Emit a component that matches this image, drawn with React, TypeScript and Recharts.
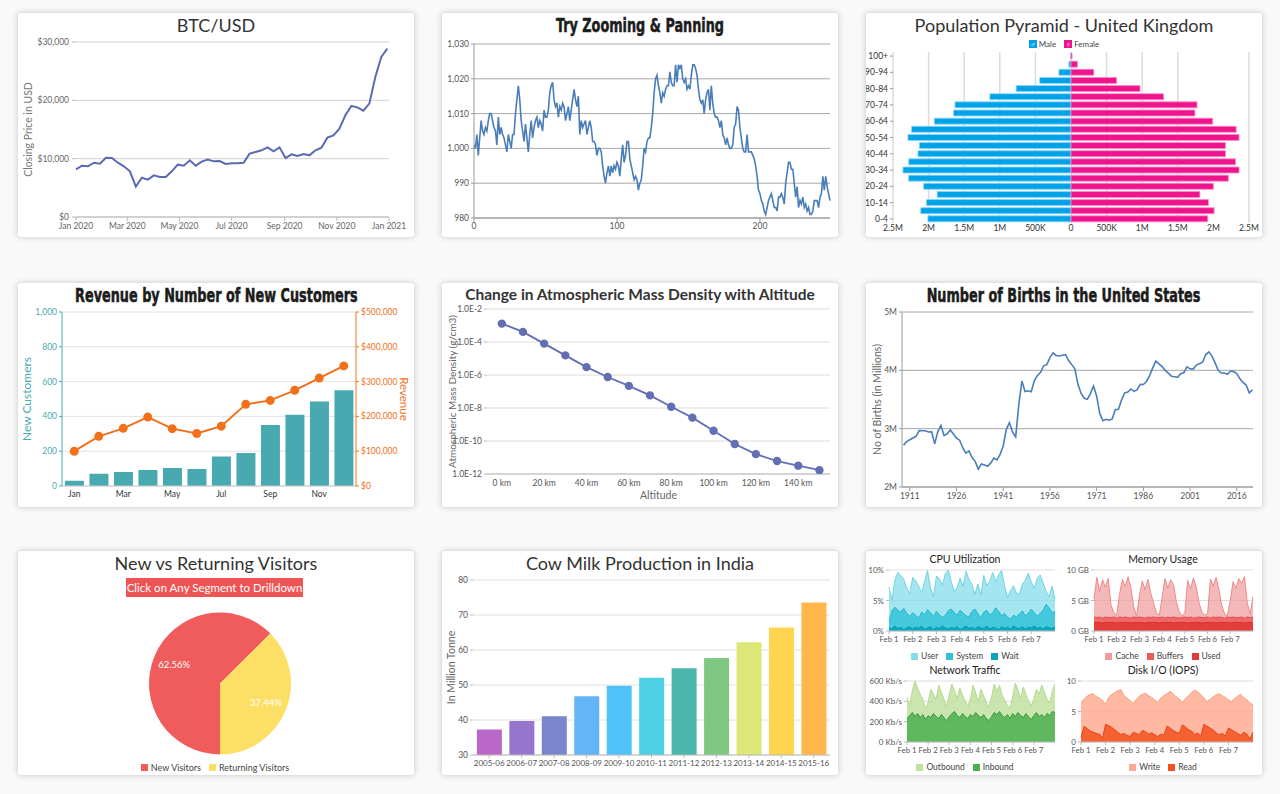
import React from "react";
import {
  LineChart,
  Line,
  XAxis,
  YAxis,
  CartesianGrid,
  BarChart,
  Bar,
  Cell,
  ComposedChart,
  PieChart,
  Pie,
  AreaChart,
  Area,
} from "recharts";

const FONT = "Lato, 'Open Sans', sans-serif";
const IMPACT = "'DejaVu Sans Condensed', 'DejaVu Sans', sans-serif";

// ---------- BTC/USD ----------
const btcDates = [
  "2020-01-01", "2020-01-08", "2020-01-15", "2020-01-22", "2020-01-29",
  "2020-02-05", "2020-02-12", "2020-02-19", "2020-02-26",
  "2020-03-04", "2020-03-11", "2020-03-18", "2020-03-25",
  "2020-04-01", "2020-04-08", "2020-04-15", "2020-04-22", "2020-04-29",
  "2020-05-06", "2020-05-13", "2020-05-20", "2020-05-27",
  "2020-06-03", "2020-06-10", "2020-06-17", "2020-06-24",
  "2020-07-01", "2020-07-08", "2020-07-15", "2020-07-22", "2020-07-29",
  "2020-08-05", "2020-08-12", "2020-08-19", "2020-08-26",
  "2020-09-02", "2020-09-09", "2020-09-16", "2020-09-23", "2020-09-30",
  "2020-10-07", "2020-10-14", "2020-10-21", "2020-10-28",
  "2020-11-04", "2020-11-11", "2020-11-18", "2020-11-25",
  "2020-12-02", "2020-12-09", "2020-12-16", "2020-12-23", "2020-12-30",
];
const btcClose = [
  8170, 8800, 8690, 9310, 9140, 10170, 10110, 9310, 8690, 7830, 5200, 6740, 6400,
  7140, 6860, 6860, 7830, 8970, 8800, 9710, 8800, 9490, 9830, 9540, 9600, 9090,
  9200, 9200, 9310, 10860, 11140, 11430, 11940, 11260, 11940, 10110, 10740, 10460,
  10800, 10570, 11430, 11890, 13600, 14000, 15140, 17430, 19030, 18800, 18230,
  19430, 24000, 27430, 28860,
];
const btcTickDates = ["2020-01-01", "2020-03-01", "2020-05-01", "2020-07-01", "2020-09-01", "2020-11-01", "2021-01-01"];
const btcYTicks = [0, 10000, 20000, 30000];

// ---------- Try Zooming & Panning ----------
const zoomValues = [
  1001, 1000, 1004, 998, 1003, 1008, 1005, 1004, 1006, 1005,
  1008, 1010, 1010, 1008, 1006, 1005, 1001, 1009, 1004, 1006,
  1004, 1003, 1001, 999, 1004, 1002, 1000, 1004, 1004, 1010,
  1014, 1018, 1014, 1008, 1005, 1002, 1007, 1003, 999, 1004,
  1008, 1003, 1006, 1008, 1009, 1006, 1008, 1007, 1005, 1011,
  1009, 1009, 1011, 1016, 1018, 1019, 1014, 1012, 1013, 1009,
  1012, 1011, 1013, 1012, 1008, 1010, 1012, 1008, 1011, 1014,
  1017, 1014, 1012, 1015, 1004, 1008, 1006, 1007, 1008, 1004,
  1006, 1008, 1006, 1002, 1002, 1001, 998, 1000, 1000, 999,
  995, 992, 990, 993, 995, 992, 995, 993, 995, 994,
  996, 995, 992, 997, 1001, 996, 998, 1002, 1002, 997,
  995, 993, 991, 992, 991, 988, 990, 991, 995, 1000,
  999, 1002, 1003, 1003, 1006, 1010, 1016, 1020, 1021, 1018,
  1016, 1013, 1016, 1015, 1017, 1018, 1018, 1022, 1019, 1018,
  1018, 1024, 1019, 1024, 1023, 1024, 1020, 1019, 1020, 1017,
  1018, 1017, 1021, 1024, 1024, 1023, 1021, 1017, 1014, 1013,
  1014, 1010, 1014, 1016, 1017, 1011, 1018, 1013, 1010, 1009,
  1009, 1008, 1006, 1008, 1004, 1003, 1001, 1003, 1001, 1000,
  1000, 1001, 1006, 1007, 1012, 1011, 1006, 1003, 1000, 999,
  999, 1004, 999, 999, 999, 998, 997, 995, 992, 988,
  987, 985, 984, 982, 981, 983, 985, 986, 987, 985,
  983, 983, 982, 986, 986, 987, 986, 984, 990, 993,
  996, 996, 994, 994, 990, 986, 989, 983, 985, 984,
  986, 983, 984, 982, 983, 981, 981, 982, 985, 985,
  985, 983, 986, 987, 992, 988, 992, 989, 987, 985,
];
const zoomXTicks = [0, 100, 200];
const zoomYTicks = [980, 990, 1000, 1010, 1020, 1030];

// ---------- Population Pyramid ----------
const ageGroups = [
  "0-4", "5-9", "10-14", "15-19", "20-24", "25-29", "30-34", "35-39", "40-44", "45-49",
  "50-54", "55-59", "60-64", "65-69", "70-74", "75-79", "80-84", "85-89", "90-94", "95-99", "100+",
];
const malePop = [2010, 2110, 2030, 1880, 2070, 2280, 2360, 2280, 2150, 2130, 2290, 2240, 1920, 1650, 1630, 1140, 770, 440, 170, 30, 5];
const femalePop = [1920, 2010, 1930, 1810, 2000, 2210, 2360, 2310, 2170, 2170, 2360, 2320, 1990, 1740, 1770, 1300, 970, 640, 320, 90, 15];
const popTicks = [-2500, -2000, -1500, -1000, -500, 0, 500, 1000, 1500, 2000, 2500];

// ---------- Revenue by New Customers ----------
const revMonths = ["Jan", "Feb", "Mar", "Apr", "May", "Jun", "Jul", "Aug", "Sep", "Oct", "Nov", "Dec"];
const newCustomers = [30, 70, 80, 92, 103, 97, 170, 190, 350, 410, 485, 550];
const revenue = [100000, 142700, 165700, 198000, 164800, 151000, 172000, 234700, 246000, 275000, 310000, 345000];
const custTicks = [0, 200, 400, 600, 800, 1000];
const revTicks = [0, 100000, 200000, 300000, 400000, 500000];

// ---------- Atmospheric density ----------
const altitudes = [0, 10, 20, 30, 40, 50, 60, 70, 80, 90, 100, 110, 120, 130, 140, 150];
const density = [1.3e-3, 4.1e-4, 8.0e-5, 1.55e-5, 3.0e-6, 7.6e-7, 2.2e-7, 5.8e-8, 1.2e-8, 2.6e-9, 4.2e-10, 6.6e-11, 1.6e-11, 6.1e-12, 3.2e-12, 1.7e-12];
const altTicks = [0, 20, 40, 60, 80, 100, 120, 140];
const densityTicks = [1e-12, 1e-10, 1e-8, 1e-6, 1e-4, 1e-2];

// ---------- Births in the US (thousands) ----------
const birthYears = [
  1909, 1910, 1911, 1912, 1913, 1914, 1915, 1916, 1917, 1918,
  1919, 1920, 1921, 1922, 1923, 1924, 1925, 1926, 1927, 1928,
  1929, 1930, 1931, 1932, 1933, 1934, 1935, 1936, 1937, 1938,
  1939, 1940, 1941, 1942, 1943, 1944, 1945, 1946, 1947, 1948,
  1949, 1950, 1951, 1952, 1953, 1954, 1955, 1956, 1957, 1958,
  1959, 1960, 1961, 1962, 1963, 1964, 1965, 1966, 1967, 1968,
  1969, 1970, 1971, 1972, 1973, 1974, 1975, 1976, 1977, 1978,
  1979, 1980, 1981, 1982, 1983, 1984, 1985, 1986, 1987, 1988,
  1989, 1990, 1991, 1992, 1993, 1994, 1995, 1996, 1997, 1998,
  1999, 2000, 2001, 2002, 2003, 2004, 2005, 2006, 2007, 2008,
  2009, 2010, 2011, 2012, 2013, 2014, 2015, 2016, 2017, 2018,
  2019, 2020, 2021,
];
const birthCounts = [
  2718, 2777, 2809, 2840, 2869, 2966, 2965, 2964, 2944, 2948,
  2740, 2950, 3055, 2882, 2910, 2979, 2909, 2839, 2802, 2674,
  2582, 2618, 2506, 2440, 2307, 2396, 2377, 2355, 2413, 2496,
  2466, 2559, 2703, 2989, 3104, 2939, 2858, 3411, 3817, 3637,
  3649, 3632, 3823, 3913, 3965, 4078, 4097, 4218, 4300, 4255,
  4245, 4258, 4268, 4167, 4098, 4027, 3760, 3606, 3521, 3502,
  3600, 3731, 3556, 3258, 3137, 3160, 3144, 3168, 3327, 3333,
  3494, 3612, 3629, 3681, 3639, 3669, 3761, 3757, 3809, 3910,
  4041, 4158, 4111, 4065, 4000, 3953, 3900, 3891, 3881, 3942,
  3959, 4059, 4026, 4022, 4090, 4112, 4138, 4266, 4316, 4248,
  4131, 4000, 3954, 3953, 3932, 3988, 3978, 3946, 3855, 3792,
  3748, 3614, 3664,
];
const birthXTicks = [1911, 1926, 1941, 1956, 1971, 1986, 2001, 2016];
const birthYTicks = [2000, 3000, 4000, 5000];

// ---------- New vs Returning ----------
const visitorNames = ["New Visitors", "Returning Visitors"];
const visitorShare = [62.56, 37.44];
const visitorColors = ["#f05c5c", "#fddf66"];

// ---------- Cow milk ----------
const milkYears = ["2005-06", "2006-07", "2007-08", "2008-09", "2009-10", "2010-11", "2011-12", "2012-13", "2013-14", "2014-15", "2015-16"];
const milkTonnes = [37.3, 39.7, 41.1, 46.8, 49.8, 52.1, 54.8, 57.7, 62.2, 66.4, 73.6];
const milkColors = ["#ba68c8", "#9575cd", "#7986cb", "#64b5f6", "#4fc3f7", "#4dd0e1", "#4db6ac", "#81c784", "#dce775", "#ffd54f", "#ffb74d"];
const milkTicks = [30, 40, 50, 60, 70, 80];

// ---------- Server dashboard (8 samples per day) ----------
const dayTicks = [0, 8, 16, 24, 32, 40, 48];
const dayLabels = ["Feb 1", "Feb 2", "Feb 3", "Feb 4", "Feb 5", "Feb 6", "Feb 7"];
const cpuUser = [
  7.2, 5.0, 8.4, 9.6, 9.1, 8.5, 7.0, 6.1,
  8.8, 8.2, 7.4, 6.3, 8.1, 9.9, 7.1, 5.6,
  9.0, 8.6, 7.5, 9.4, 10.0, 8.1, 6.5, 7.1,
  8.7, 7.3, 9.8, 8.4, 7.6, 6.0, 7.7, 5.9,
  9.1, 7.4, 8.2, 9.6, 8.0, 9.2, 9.9, 7.4,
  5.5, 6.6, 7.4, 6.2, 6.0, 7.7, 8.3, 9.5,
  8.0, 7.0, 8.6, 9.2, 7.9, 6.5, 5.6, 7.3, 5.2,
];
const cpuSystem = [
  1.6, 3.3, 3.9, 3.4, 3.1, 3.7, 2.9, 2.4,
  3.0, 2.6, 2.1, 3.1, 2.7, 3.5, 3.0, 2.4,
  3.2, 2.7, 2.2, 2.6, 3.3, 3.6, 3.0, 2.6,
  3.4, 2.9, 2.5, 2.3, 3.2, 3.6, 2.8, 2.2,
  3.1, 3.4, 2.6, 3.0, 3.8, 3.2, 2.5, 2.9,
  2.2, 2.0, 2.6, 2.3, 2.8, 3.3, 2.5, 2.9,
  3.6, 3.0, 2.4, 2.9, 3.4, 4.4, 3.8, 3.0, 3.2,
];
const cpuWait = [
  0.5, 0.3, 0.8, 0.4, 0.6, 0.2, 0.5, 0.7,
  0.3, 0.6, 0.4, 0.8, 0.3, 0.5, 0.7, 0.2,
  0.6, 0.4, 0.8, 0.5, 0.3, 0.6, 0.4, 0.7,
  0.2, 0.5, 0.8, 0.4, 0.6, 0.3, 0.7, 0.5,
  0.4, 0.8, 0.3, 0.6, 0.5, 0.2, 0.7, 0.4,
  0.6, 0.3, 0.8, 0.5, 0.4, 0.7, 0.3, 0.6,
  0.5, 0.8, 0.4, 0.6, 0.3, 0.7, 0.5, 0.4, 0.6,
];
const memCache = [
  5.2, 8.8, 6.5, 8.4, 7.2, 8.6, 4.2, 3.0,
  2.6, 6.0, 8.5, 7.3, 8.9, 7.0, 4.0, 2.4,
  5.8, 8.2, 6.8, 8.5, 6.2, 4.5, 3.0, 2.6,
  5.5, 8.6, 7.0, 8.4, 7.6, 4.8, 3.2, 2.4,
  3.0, 8.3, 6.9, 8.7, 7.2, 4.6, 3.1, 2.6,
  2.8, 8.5, 7.4, 8.8, 6.8, 4.2, 2.8, 2.5,
  5.0, 8.1, 7.0, 8.6, 7.8, 8.9, 4.5, 2.8, 5.6,
];
const memBuffers = [
  2.3, 2.2, 2.3, 2.1, 2.3, 2.2, 2.2, 2.3,
  2.1, 2.3, 2.2, 2.3, 2.2, 2.1, 2.3, 2.2,
  2.3, 2.2, 2.1, 2.3, 2.2, 2.3, 2.2, 2.2,
  2.3, 2.1, 2.3, 2.2, 2.3, 2.2, 2.1, 2.2,
  2.3, 2.2, 2.3, 2.1, 2.2, 2.3, 2.2, 2.2,
  2.3, 2.1, 2.3, 2.2, 2.3, 2.2, 2.1, 2.3,
  2.2, 2.3, 2.2, 2.2, 2.3, 2.1, 2.3, 2.2, 2.3,
];
const memUsed = [
  1.4, 1.4, 1.4, 1.3, 1.4, 1.4, 1.4, 1.4,
  1.3, 1.4, 1.4, 1.4, 1.4, 1.3, 1.4, 1.4,
  1.4, 1.4, 1.3, 1.4, 1.4, 1.4, 1.4, 1.3,
  1.4, 1.4, 1.4, 1.4, 1.3, 1.4, 1.4, 1.4,
  1.4, 1.3, 1.4, 1.4, 1.4, 1.4, 1.3, 1.4,
  1.4, 1.4, 1.4, 1.3, 1.4, 1.4, 1.4, 1.4,
  1.3, 1.4, 1.4, 1.4, 1.4, 1.3, 1.4, 1.4, 1.4,
];
const netOut = [
  440, 360, 500, 600, 530, 470, 420, 330,
  390, 520, 470, 420, 560, 490, 420, 350,
  470, 570, 500, 430, 530, 460, 400, 350,
  420, 560, 480, 400, 520, 450, 390, 340,
  440, 570, 500, 560, 460, 410, 360, 330,
  450, 580, 510, 430, 540, 470, 400, 360,
  420, 520, 470, 560, 490, 420, 380, 500, 570,
];
const netIn = [
  230, 260, 290, 250, 280, 240, 270, 220,
  260, 240, 280, 250, 230, 270, 240, 210,
  250, 280, 300, 260, 240, 280, 250, 230,
  270, 250, 290, 260, 240, 270, 230, 210,
  250, 290, 270, 300, 260, 240, 270, 230,
  280, 250, 290, 260, 240, 280, 250, 220,
  260, 290, 250, 270, 240, 280, 260, 300, 290,
];
const diskWrite = [
  6.5, 7.0, 7.5, 7.8, 7.9, 7.4, 7.2, 6.8,
  6.2, 7.3, 7.8, 8.1, 8.4, 8.6, 7.6, 7.2,
  6.8, 6.3, 7.0, 7.5, 7.8, 8.0, 7.6, 7.3,
  6.9, 6.5, 7.2, 7.6, 7.9, 8.3, 7.9, 7.4,
  7.0, 6.5, 7.1, 7.6, 8.1, 8.5, 8.2, 7.8,
  7.2, 6.6, 7.0, 7.4, 7.7, 7.9, 7.6, 7.3,
  6.9, 6.6, 7.1, 7.5, 7.8, 7.3, 6.9, 6.4, 6.1,
];
const diskRead = [
  0.8, 2.6, 2.2, 1.8, 1.6, 1.4, 1.3, 0.6,
  2.9, 2.7, 2.4, 2.0, 1.6, 1.2, 1.4, 1.1,
  0.9, 1.6, 1.4, 1.2, 1.9, 1.7, 1.3, 1.5,
  1.2, 0.9, 1.3, 1.1, 2.6, 2.3, 1.9, 1.6,
  1.4, 2.8, 2.5, 2.0, 1.8, 1.2, 1.5, 0.9,
  2.9, 2.6, 2.3, 2.0, 1.5, 1.2, 1.4, 1.0,
  2.3, 2.0, 1.7, 1.4, 1.1, 1.6, 1.3, 0.5, 1.6,
];

// ---------- helpers ----------
const tick = (fill = "#666", fontSize = 8.5) => ({ fill, fontSize, fontFamily: FONT });

function Card({ left, top, children }: { left: number; top: number; children: React.ReactNode }) {
  return (
    <div
      style={{
        position: "absolute",
        left,
        top,
        width: 396,
        height: 224,
        background: "#fff",
        borderRadius: 3,
        boxShadow: "0 0 6px rgba(0,0,0,0.22)",
        overflow: "hidden",
      }}
    >
      {children}
    </div>
  );
}

function Title({ text, impact = false, size = 18, top = 1, weight = 400 }: { text: string; impact?: boolean; size?: number; top?: number; weight?: number }) {
  return (
    <div
      style={{
        position: "absolute",
        left: 0,
        right: 0,
        top,
        textAlign: "center",
        fontSize: size,
        lineHeight: `${size + 4}px`,
        fontFamily: impact ? IMPACT : FONT,
        fontWeight: impact ? 700 : weight,
        color: impact ? "#1c1c1c" : "#333",
        zIndex: 2,
        whiteSpace: "nowrap",
      }}
    >
      {impact ? (
        <span style={{ display: "inline-block", transform: "scaleX(0.75)", WebkitTextStroke: "0.5px #1c1c1c" }}>{text}</span>
      ) : (
        text
      )}
    </div>
  );
}

function LegendRow({ items, top, center, size = 8.5, gap = 10 }: { items: { label: string; color: string }[]; top: number; center: number; size?: number; gap?: number }) {
  return (
    <div
      style={{
        position: "absolute",
        top,
        left: center - 120,
        width: 240,
        display: "flex",
        justifyContent: "center",
        gap,
        fontSize: size,
        color: "#444",
        lineHeight: "11px",
        zIndex: 2,
      }}
    >
      {items.map((it) => (
        <span key={it.label} style={{ display: "flex", alignItems: "center", gap: 3 }}>
          <span style={{ width: 7, height: 7, background: it.color, display: "inline-block" }} />
          {it.label}
        </span>
      ))}
    </div>
  );
}

const fmtMonth = (v: number) =>
  new Date(v).toLocaleString("en-US", { month: "short", year: "numeric", timeZone: "UTC" });
const fmtPop = (v: number) => {
  const a = Math.abs(v);
  if (a === 0) return "0";
  if (a < 1000) return `${a}K`;
  return `${a / 1000}M`;
};

// ---------- cards ----------
function BtcCard() {
  const data = btcDates.map((d, i) => ({ t: Date.parse(d), close: btcClose[i] }));
  const ticks = btcTickDates.map((d) => Date.parse(d));
  return (
    <Card left={18} top={13}>
      <Title text="BTC/USD" />
      <LineChart width={396} height={224} data={data} margin={{ top: 29, right: 25, bottom: 0, left: 0 }}>
        <CartesianGrid vertical={false} stroke="#d0d0d0" />
        <XAxis
          dataKey="t"
          type="number"
          domain={[ticks[0], ticks[ticks.length - 1]]}
          ticks={ticks}
          tickFormatter={fmtMonth}
          height={20}
          stroke="#bbb"
          tickSize={4}
          tickMargin={2}
          tick={tick()}
        />
        <YAxis
          domain={[0, 30000]}
          ticks={btcYTicks}
          tickFormatter={(v: number) => `$${v.toLocaleString("en-US")}`}
          width={58}
          axisLine={false}
          stroke="#bbb"
          tickSize={4}
          tickMargin={3}
          tick={tick()}
          label={{ value: "Closing Price in USD", angle: -90, position: "insideLeft", offset: 10, style: { textAnchor: "middle", fill: "#777", fontSize: 10.5 } }}
        />
        <Line dataKey="close" stroke="#5b6bb3" strokeWidth={2} dot={false} isAnimationActive={false} />
      </LineChart>
    </Card>
  );
}

function ZoomCard() {
  const data = zoomValues.map((v, i) => ({ x: i, y: v }));
  return (
    <Card left={442} top={13}>
      <Title text="Try Zooming & Panning" impact size={19} />
      <LineChart width={396} height={224} data={data} margin={{ top: 31, right: 8, bottom: 0, left: 0 }}>
        <CartesianGrid vertical={false} stroke="#a8a8a8" />
        <XAxis dataKey="x" type="number" domain={[0, 249]} ticks={zoomXTicks} height={19} stroke="#999" tickSize={4} tickMargin={1} tick={tick("#555")} />
        <YAxis
          domain={[980, 1030]}
          ticks={zoomYTicks}
          tickFormatter={(v: number) => v.toLocaleString("en-US")}
          width={32}
          stroke="#999"
          tickSize={3}
          tickMargin={2}
          tick={tick("#555")}
        />
        <Line dataKey="y" stroke="#4a7ebb" strokeWidth={1.6} dot={false} isAnimationActive={false} />
      </LineChart>
    </Card>
  );
}

function PyramidCard() {
  const data = ageGroups.map((a, i) => ({ age: a, male: -malePop[i], female: femalePop[i] }));
  return (
    <Card left={866} top={13}>
      <Title text="Population Pyramid - United Kingdom" />
      <div style={{ position: "absolute", top: 26, left: 0, width: 396, display: "flex", justifyContent: "center", gap: 8, fontSize: 8, color: "#444", lineHeight: "10px", zIndex: 2 }}>
        <span style={{ display: "flex", alignItems: "center", gap: 2 }}>
          <span style={{ width: 8, height: 8, background: "#00a3e8", color: "#fff", fontSize: 7, lineHeight: "8px", textAlign: "center" }}>♂</span>
          Male
        </span>
        <span style={{ display: "flex", alignItems: "center", gap: 2 }}>
          <span style={{ width: 8, height: 8, background: "#f0148c", color: "#fff", fontSize: 7, lineHeight: "8px", textAlign: "center" }}>♀</span>
          Female
        </span>
      </div>
      <BarChart width={396} height={224} data={data} layout="vertical" stackOffset="sign" barCategoryGap={1} margin={{ top: 39, right: 13, bottom: 0, left: 0 }}>
        <CartesianGrid horizontal={false} stroke="#dcdcdc" strokeWidth={1.5} />
        <XAxis type="number" domain={[-2500, 2500]} ticks={popTicks} tickFormatter={fmtPop} height={14} axisLine={false} tickLine={false} tickSize={0} tickMargin={2} tick={tick("#333")} />
        <YAxis type="category" dataKey="age" reversed interval={1} width={27} axisLine={false} stroke="#999" tickSize={3} tickMargin={2} tick={tick("#333")} />
        <Bar dataKey="male" stackId="p" fill="#00a3e8" stroke="#8fd6f7" strokeWidth={0.8} isAnimationActive={false} />
        <Bar dataKey="female" stackId="p" fill="#f0148c" stroke="#f88cc6" strokeWidth={0.8} isAnimationActive={false} />
      </BarChart>
    </Card>
  );
}

function RevenueCard() {
  const data = revMonths.map((m, i) => ({ month: m, customers: newCustomers[i], revenue: revenue[i] }));
  const teal = "#48aab0";
  const orange = "#f3701a";
  return (
    <Card left={18} top={283}>
      <Title text="Revenue by Number of New Customers" impact size={19} />
      <ComposedChart width={396} height={224} data={data} barCategoryGap="12%" margin={{ top: 29, right: 0, bottom: 0, left: 0 }}>
        <CartesianGrid vertical={false} stroke="#e3e3e3" yAxisId="left" />
        <XAxis dataKey="month" interval={1} height={21} stroke="#ccc" tickLine={false} tickSize={3} tickMargin={2} tick={tick("#333")} />
        <YAxis
          yAxisId="left"
          domain={[0, 1000]}
          ticks={custTicks}
          tickFormatter={(v: number) => v.toLocaleString("en-US")}
          width={44}
          stroke={teal}
          tickSize={3}
          tickMargin={2}
          tick={tick(teal)}
          label={{ value: "New Customers", angle: -90, position: "insideLeft", offset: 9, style: { textAnchor: "middle", fill: teal, fontSize: 12 } }}
        />
        <YAxis
          yAxisId="right"
          orientation="right"
          domain={[0, 500000]}
          ticks={revTicks}
          tickFormatter={(v: number) => `$${v.toLocaleString("en-US")}`}
          width={58}
          stroke={orange}
          tickSize={3}
          tickMargin={2}
          tick={tick(orange)}
          label={{ value: "Revenue", angle: 90, position: "insideRight", offset: 10, style: { textAnchor: "middle", fill: orange, fontSize: 11.5 } }}
        />
        <Bar yAxisId="left" dataKey="customers" fill={teal} isAnimationActive={false} />
        <Line yAxisId="right" dataKey="revenue" stroke={orange} strokeWidth={2} dot={{ r: 3.5, fill: orange, stroke: orange }} isAnimationActive={false} />
      </ComposedChart>
    </Card>
  );
}

function AtmosCard() {
  const data = altitudes.map((a, i) => ({ alt: a, d: density[i] }));
  return (
    <Card left={442} top={283}>
      <Title text="Change in Atmospheric Mass Density with Altitude" size={15.5} top={2} weight={700} />
      <LineChart width={396} height={224} data={data} margin={{ top: 26, right: 8, bottom: 0, left: 0 }}>
        <CartesianGrid vertical={false} stroke="#dcdcdc" />
        <XAxis
          dataKey="alt"
          type="number"
          domain={[-7, 155]}
          ticks={altTicks}
          tickFormatter={(v: number) => `${v} km`}
          height={33}
          stroke="#bbb"
          tickLine={false}
          tickSize={4}
          tickMargin={2}
          tick={tick("#555")}
          label={{ value: "Altitude", position: "insideBottom", offset: 8, style: { fill: "#666", fontSize: 10.5 } }}
        />
        <YAxis
          scale="log"
          domain={[1e-12, 1e-2]}
          allowDataOverflow
          ticks={densityTicks}
          tickFormatter={(v: number) => v.toExponential(1).toUpperCase()}
          width={45}
          axisLine={false}
          stroke="#bbb"
          tickSize={3}
          tickMargin={2}
          tick={tick("#555")}
          label={{ value: "Atmospheric Mass Density (g/cm3)", angle: -90, position: "insideLeft", offset: 10, style: { textAnchor: "middle", fill: "#666", fontSize: 10 } }}
        />
        <Line dataKey="d" stroke="#6270b3" strokeWidth={1.8} dot={{ r: 3.3, fill: "#6270b3", stroke: "#6270b3" }} isAnimationActive={false} />
      </LineChart>
    </Card>
  );
}

function BirthsCard() {
  const data = birthYears.map((y, i) => ({ year: y, births: birthCounts[i] }));
  return (
    <Card left={866} top={283}>
      <Title text="Number of Births in the United States" impact size={19} />
      <LineChart width={396} height={224} data={data} margin={{ top: 29, right: 9, bottom: 0, left: 0 }}>
        <CartesianGrid vertical={false} stroke="#a8a8a8" />
        <XAxis dataKey="year" type="number" domain={[1908.5, 2021.2]} ticks={birthXTicks} height={20} stroke="#999" tickSize={4} tickMargin={2} tick={tick("#555")} />
        <YAxis
          domain={[2000, 5000]}
          ticks={birthYTicks}
          tickFormatter={(v: number) => `${v / 1000}M`}
          width={36}
          stroke="#999"
          tickSize={3}
          tickMargin={2}
          tick={tick("#555")}
          label={{ value: "No of Births (in Millions)", angle: -90, position: "insideLeft", offset: 11, style: { textAnchor: "middle", fill: "#666", fontSize: 10.5 } }}
        />
        <Line dataKey="births" stroke="#4a7ebb" strokeWidth={1.6} dot={false} isAnimationActive={false} />
      </LineChart>
    </Card>
  );
}

function VisitorsCard() {
  const data = visitorNames.map((n, i) => ({ name: n, value: visitorShare[i] }));
  const renderLabel = (p: any) => {
    const rad = Math.PI / 180;
    const r = p.outerRadius * 0.7;
    const x = p.cx + r * Math.cos(-p.midAngle * rad);
    const y = p.cy + r * Math.sin(-p.midAngle * rad);
    return (
      <text x={x} y={y} fill="#fff" fontSize={9.5} textAnchor="middle" dominantBaseline="central" fontFamily={FONT}>
        {`${p.value.toFixed(2)}%`}
      </text>
    );
  };
  return (
    <Card left={18} top={551}>
      <Title text="New vs Returning Visitors" />
      <div
        style={{
          position: "absolute",
          left: 108,
          top: 27,
          width: 177,
          height: 19,
          background: "#ef5454",
          color: "#fff",
          fontSize: 11.5,
          lineHeight: "19px",
          textAlign: "center",
          zIndex: 2,
        }}
      >
        Click on Any Segment to Drilldown
      </div>
      <PieChart width={396} height={224}>
        <Pie
          data={data}
          dataKey="value"
          cx={197}
          cy={127.5}
          outerRadius={71}
          startAngle={-90}
          endAngle={-450}
          stroke="none"
          label={renderLabel}
          labelLine={false}
          isAnimationActive={false}
        >
          {data.map((d, i) => (
            <Cell key={d.name} fill={visitorColors[i]} />
          ))}
        </Pie>
      </PieChart>
      <LegendRow items={visitorNames.map((n, i) => ({ label: n, color: visitorColors[i] }))} top={211} center={197} size={9} gap={8} />
    </Card>
  );
}

function MilkCard() {
  const data = milkYears.map((y, i) => ({ year: y, tonnes: milkTonnes[i] }));
  return (
    <Card left={442} top={551}>
      <Title text="Cow Milk Production in India" />
      <BarChart width={396} height={224} data={data} barCategoryGap="12%" margin={{ top: 29, right: 8, bottom: 0, left: 0 }}>
        <CartesianGrid vertical={false} stroke="#e0e0e0" />
        <XAxis dataKey="year" interval={0} height={20} stroke="#bbb" tickSize={3} tickMargin={2} tick={tick("#555", 8)} />
        <YAxis
          domain={[30, 80]}
          ticks={milkTicks}
          width={31}
          axisLine={false}
          stroke="#bbb"
          tickSize={3}
          tickMargin={2}
          tick={tick("#555")}
          label={{ value: "In Million Tonne", angle: -90, position: "insideLeft", offset: 9, style: { textAnchor: "middle", fill: "#666", fontSize: 10.5 } }}
        />
        <Bar dataKey="tonnes" isAnimationActive={false}>
          {data.map((d, i) => (
            <Cell key={d.year} fill={milkColors[i]} />
          ))}
        </Bar>
      </BarChart>
    </Card>
  );
}

type SmallSeries = { key: string; label: string; fill: string; stroke: string; opacity: number };

function SmallArea({
  left,
  top,
  title,
  data,
  series,
  yMax,
  yTicks,
  yFormat,
  yWidth,
  right,
}: {
  left: number;
  top: number;
  title: string;
  data: any[];
  series: SmallSeries[];
  yMax: number;
  yTicks: number[];
  yFormat: (v: number) => string;
  yWidth: number;
  right: number;
}) {
  // plain text tick so labels like "600 Kb/s" never wrap
  const yTick = (p: any) => (
    <text x={p.x} y={p.y} dy={3} textAnchor="end" fill="#555" fontSize={8} fontFamily={FONT}>
      {yFormat(p.payload.value)}
    </text>
  );
  return (
    <div style={{ position: "absolute", left, top, width: 198, height: 112 }}>
      <div style={{ position: "absolute", left: 0, width: 198, top: 2, textAlign: "center", fontSize: 10.5, color: "#222", lineHeight: "13px" }}>{title}</div>
      <AreaChart width={198} height={100} data={data} margin={{ top: 19, right, bottom: 0, left: 0 }}>
        <CartesianGrid vertical={false} stroke="#dedede" />
        <XAxis
          dataKey="i"
          type="number"
          domain={[0, 56]}
          ticks={dayTicks}
          interval={0}
          tickFormatter={(v: number) => dayLabels[dayTicks.indexOf(v)]}
          height={20}
          stroke="#bbb"
          tickSize={3}
          tickMargin={2}
          tick={tick("#555", 7.8)}
        />
        <YAxis domain={[0, yMax]} ticks={yTicks} interval={0} width={yWidth} axisLine={false} stroke="#bbb" tickSize={3} tickMargin={2} tick={yTick} />
        {series.map((s) => (
          <Area
            key={s.key}
            type="linear"
            dataKey={s.key}
            stroke={s.stroke}
            strokeWidth={1}
            fill={s.fill}
            fillOpacity={s.opacity}
            dot={false}
            isAnimationActive={false}
          />
        ))}
      </AreaChart>
      <LegendRow items={series.map((s) => ({ label: s.label, color: s.fill }))} top={100} center={99} size={8.5} gap={8} />
    </div>
  );
}

function DashboardCard() {
  const cpu = cpuUser.map((u, i) => ({ i, user: u, system: cpuSystem[i], wait: cpuWait[i] }));
  const mem = memCache.map((c, i) => ({ i, cache: c, buffers: memBuffers[i], used: memUsed[i] }));
  const net = netOut.map((o, i) => ({ i, outbound: o, inbound: netIn[i] }));
  const disk = diskWrite.map((w, i) => ({ i, write: w, read: diskRead[i] }));
  return (
    <Card left={866} top={551}>
      <SmallArea
        left={0}
        top={0}
        title="CPU Utilization"
        data={cpu}
        yMax={10}
        yTicks={[0, 5, 10]}
        yFormat={(v) => `${v}%`}
        yWidth={23}
        right={9}
        series={[
          { key: "user", label: "User", fill: "#86dcea", stroke: "#6fd3e3", opacity: 0.75 },
          { key: "system", label: "System", fill: "#32c3d8", stroke: "#22b8cf", opacity: 0.85 },
          { key: "wait", label: "Wait", fill: "#0aa5bb", stroke: "#0098ad", opacity: 0.9 },
        ]}
      />
      <SmallArea
        left={198}
        top={0}
        title="Memory Usage"
        data={mem}
        yMax={10}
        yTicks={[0, 5, 10]}
        yFormat={(v) => `${v} GB`}
        yWidth={30}
        right={9}
        series={[
          { key: "cache", label: "Cache", fill: "#f19a9a", stroke: "#ee8a8a", opacity: 0.7 },
          { key: "buffers", label: "Buffers", fill: "#ec5a5a", stroke: "#e84a4a", opacity: 0.85 },
          { key: "used", label: "Used", fill: "#e43a3a", stroke: "#d63030", opacity: 0.95 },
        ]}
      />
      <SmallArea
        left={0}
        top={111}
        title="Network Traffic"
        data={net}
        yMax={600}
        yTicks={[0, 200, 400, 600]}
        yFormat={(v) => `${v} Kb/s`}
        yWidth={41}
        right={9}
        series={[
          { key: "outbound", label: "Outbound", fill: "#c2e0a0", stroke: "#b4d98c", opacity: 0.85 },
          { key: "inbound", label: "Inbound", fill: "#4caf50", stroke: "#3a9a3e", opacity: 0.85 },
        ]}
      />
      <SmallArea
        left={198}
        top={111}
        title="Disk I/O (IOPS)"
        data={disk}
        yMax={10}
        yTicks={[0, 5, 10]}
        yFormat={(v) => `${v}`}
        yWidth={17}
        right={9}
        series={[
          { key: "write", label: "Write", fill: "#ffab91", stroke: "#ff9a7a", opacity: 0.85 },
          { key: "read", label: "Read", fill: "#f4511e", stroke: "#e8431a", opacity: 0.85 },
        ]}
      />
    </Card>
  );
}

export default function App() {
  return (
    <div style={{ position: "fixed", left: 0, top: 0, width: 1280, height: 794, background: "#f9f9f9", fontFamily: FONT }}>
      <BtcCard />
      <ZoomCard />
      <PyramidCard />
      <RevenueCard />
      <AtmosCard />
      <BirthsCard />
      <VisitorsCard />
      <MilkCard />
      <DashboardCard />
    </div>
  );
}
